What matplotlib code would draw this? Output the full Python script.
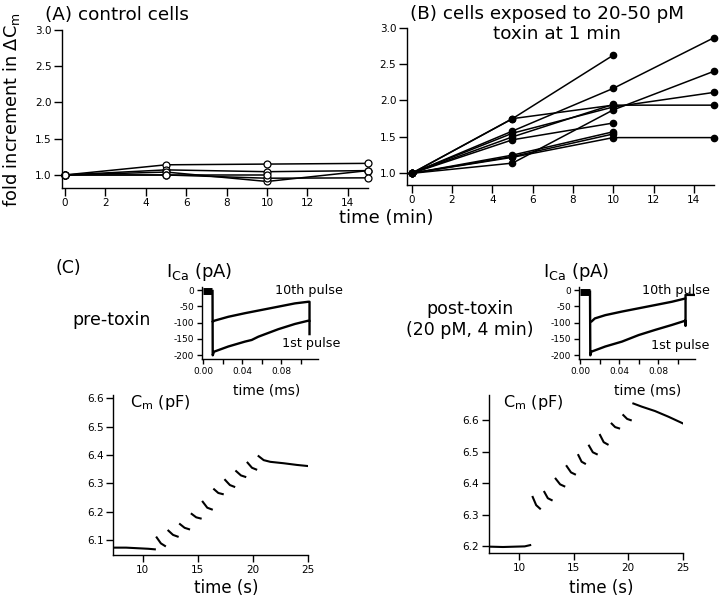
import matplotlib
matplotlib.use("Agg")
import matplotlib.pyplot as plt
import numpy as np

plt.rcParams['font.family'] = ['DejaVu Sans']
plt.rcParams['axes.unicode_minus'] = False
plt.rcParams['mathtext.default'] = 'regular'

nan = np.nan

# (A) / (B): fold increment vs time (min)
t_min = [0, 5, 10, 15]
ctrl_cells = [
    [1.0, 1.14, 1.15, 1.16],
    [1.0, 1.07, 1.045, 1.06],
    [1.0, 1.04, 0.91, 1.06],
    [1.0, 1.0, 0.955, 0.96],
    [1.0, 1.0, 1.0, nan],
]
tox_cells = [
    [1.0, 1.75, 2.62, nan],
    [1.0, 1.75, 1.935, 1.935],
    [1.0, 1.58, 2.165, 2.86],
    [1.0, 1.55, 1.91, 2.11],
    [1.0, 1.50, 1.945, nan],
    [1.0, 1.46, 1.69, nan],
    [1.0, 1.25, 1.57, nan],
    [1.0, 1.23, 1.54, nan],
    [1.0, 1.22, 1.49, 1.49],
    [1.0, 1.14, 1.87, 2.40],
]
min_ticks = [0, 2, 4, 6, 8, 10, 12, 14]
fold_ticks = [1.0, 1.5, 2.0, 2.5, 3.0]

# (C) calcium currents, time in ms, current in pA
pre_noise_t = [0.0, 0.009]
pre_noise_i = [-4, -4]
pre_1st_t = [0.0095, 0.0097, 0.011, 0.0257, 0.0428, 0.0497, 0.0565, 0.077, 0.094, 0.1077, 0.109, 0.109]
pre_1st_i = [-3, -200, -189, -173, -158, -153, -143, -120, -104, -94, -94, -135]
pre_10th_t = [0.0097, 0.0114, 0.0257, 0.0428, 0.0599, 0.077, 0.094, 0.1077, 0.109, 0.109]
pre_10th_i = [-97, -94, -82, -71, -61, -51, -41, -36, -36, -94]

post_noise_t = [0.0, 0.0098]
post_noise_i = [-5, -5]
post_1st_t = [0.0100, 0.0103, 0.0113, 0.0257, 0.0428, 0.0599, 0.077, 0.094, 0.1077, 0.108, 0.108, 0.117]
post_1st_i = [-5, -200, -189, -173, -158, -138, -122, -107, -94, -110, -15, -15]
post_10th_t = [0.0103, 0.0113, 0.015, 0.0257, 0.0428, 0.0599, 0.077, 0.094, 0.1077]
post_10th_i = [-97, -97, -87, -77, -66, -56, -46, -36, -26]

ms_ticks = [0.0, 0.02, 0.04, 0.06, 0.08, 0.10]
ms_labels = ['0.00', '', '0.04', '', '0.08', '']
pa_ticks = [0, -50, -100, -150, -200]

# (C) membrane capacitance, time in s, Cm in pF
cm_pre_base_t = [7.5, 8.5, 9.5, 10.5, 11.1]
cm_pre_base_c = [6.073, 6.073, 6.071, 6.069, 6.067]
cm_pre_segs = [
    ([11.27, 11.65, 12.02], [6.109, 6.088, 6.079]),
    ([12.33, 12.75, 13.17], [6.133, 6.118, 6.112]),
    ([13.38, 13.80, 14.20], [6.156, 6.143, 6.138]),
    ([14.44, 14.85, 15.25], [6.192, 6.180, 6.176]),
    ([15.44, 15.85, 16.26], [6.235, 6.214, 6.208]),
    ([16.47, 16.85, 17.25], [6.279, 6.266, 6.262]),
    ([17.47, 17.90, 18.29], [6.312, 6.294, 6.288]),
    ([18.47, 18.90, 19.29], [6.343, 6.328, 6.323]),
    ([19.50, 19.90, 20.28], [6.373, 6.355, 6.349]),
]
cm_pre_end_t = [20.5, 20.96, 21.56, 22.77, 23.98, 25.0]
cm_pre_end_c = [6.396, 6.382, 6.376, 6.371, 6.365, 6.361]

cm_post_base_t = [7.4, 8.5, 9.5, 10.5, 11.0]
cm_post_base_c = [6.198, 6.197, 6.198, 6.199, 6.203]
cm_post_segs = [
    ([11.23, 11.55, 11.90], [6.356, 6.330, 6.319]),
    ([12.30, 12.62, 12.97], [6.372, 6.352, 6.346]),
    ([13.34, 13.75, 14.13], [6.414, 6.396, 6.390]),
    ([14.35, 14.75, 15.11], [6.454, 6.434, 6.428]),
    ([15.42, 15.72, 16.03], [6.489, 6.468, 6.462]),
    ([16.40, 16.75, 17.11], [6.519, 6.498, 6.492]),
    ([17.41, 17.75, 18.11], [6.553, 6.530, 6.523]),
    ([18.48, 18.80, 19.16], [6.589, 6.578, 6.574]),
    ([19.55, 19.90, 20.23], [6.616, 6.604, 6.600]),
]
cm_post_end_t = [20.47, 21.24, 22.46, 23.69, 25.0]
cm_post_end_c = [6.653, 6.643, 6.629, 6.611, 6.590]

W, H = 720, 600
fig = plt.figure(figsize=(7.2, 6), dpi=100)


def box(x0, y0, x1, y1):
    # pixel box (top-left origin) -> figure fraction
    return [x0 / W, 1 - y1 / H, (x1 - x0) / W, (y1 - y0) / H]


def ftext(x, y, s, **kw):
    fig.text(x / W, 1 - y / H, s, **kw)


def style(ax, size=7.5, length=5.5):
    for s in ['top', 'right']:
        ax.spines[s].set_visible(False)
    for s in ['left', 'bottom']:
        ax.spines[s].set_linewidth(1.0)
    ax.tick_params(direction='out', length=length, width=1.0, labelsize=size, pad=2)


# ---- (A) control
axA = fig.add_axes(box(62, 30, 368, 188))
for c in ctrl_cells:
    axA.plot(t_min, c, color='black', lw=1.1, marker='o', ms=5, mfc='white',
             mec='black', mew=0.9, clip_on=False)
axA.set_xlim(-0.15, 15)
axA.set_ylim(0.82, 3.0)
axA.set_xticks(min_ticks)
axA.set_yticks(fold_ticks)
axA.set_yticklabels(['%.1f' % v for v in fold_ticks])
style(axA)

# ---- (B) toxin
axB = fig.add_axes(box(406.7, 27.5, 714, 185))
for c in tox_cells:
    axB.plot(t_min, c, color='black', lw=1.1, marker='o', ms=4.5, mfc='black',
             mec='black', clip_on=False)
axB.set_xlim(-0.25, 15)
axB.set_ylim(0.84, 3.0)
axB.set_xticks(min_ticks)
axB.set_yticks(fold_ticks)
axB.set_yticklabels(['%.1f' % v for v in fold_ticks])
style(axB)

ftext(45, 15, '(A) control cells', fontsize=13.2, ha='left', va='center')
ftext(410, 14, '(B) cells exposed to 20-50 pM', fontsize=13.2, ha='left', va='center')
ftext(557, 34, 'toxin at 1 min', fontsize=13.2, ha='center', va='center')
ftext(12, 110, 'fold increment in ΔC$_m$', fontsize=12.8, rotation=90,
      ha='center', va='center')
ftext(386, 218, 'time (min)', fontsize=13, ha='center', va='center')

# ---- (C) current insets
for box_px, nt, ni, t1, i1, t10, i10 in [
        ((201.7, 287, 318, 359), pre_noise_t, pre_noise_i, pre_1st_t, pre_1st_i, pre_10th_t, pre_10th_i),
        ((578.7, 287, 695, 359), post_noise_t, post_noise_i, post_1st_t, post_1st_i, post_10th_t, post_10th_i)]:
    ax = fig.add_axes(box(*box_px))
    ax.plot(nt, ni, color='black', lw=5, solid_capstyle='butt')
    ax.plot(t1, i1, color='black', lw=1.7)
    ax.plot(t10, i10, color='black', lw=1.7)
    ax.set_xlim(-0.0016, 0.1177)
    ax.set_ylim(-211.3, 9.2)
    ax.set_xticks(ms_ticks)
    ax.set_xticklabels(ms_labels)
    ax.set_yticks(pa_ticks)
    ax.set_yticklabels([str(v) for v in pa_ticks])
    style(ax, size=6.5, length=3.5)

ftext(55, 268, '(C)', fontsize=12.5, ha='left', va='center')
ftext(166, 272, 'I$_{Ca}$ (pA)', fontsize=13, ha='left', va='center')
ftext(543, 272, 'I$_{Ca}$ (pA)', fontsize=13, ha='left', va='center')
ftext(112, 320, 'pre-toxin', fontsize=12.5, ha='center', va='center')
ftext(470, 309, 'post-toxin', fontsize=12.5, ha='center', va='center')
ftext(470, 330, '(20 pM, 4 min)', fontsize=12.5, ha='center', va='center')
ftext(343, 290, '10th pulse', fontsize=9.2, ha='right', va='center')
ftext(710, 290, '10th pulse', fontsize=9.2, ha='right', va='center')
ftext(340, 344, '1st pulse', fontsize=9.2, ha='right', va='center')
ftext(709, 345, '1st pulse', fontsize=9.2, ha='right', va='center')
ftext(267, 390, 'time (ms)', fontsize=10, ha='center', va='center')
ftext(648, 390, 'time (ms)', fontsize=10, ha='center', va='center')

# ---- (C) capacitance
for box_px, bt, bc, segs, et, ec, xl, yl, yt in [
        ((113.3, 395, 308.3, 555), cm_pre_base_t, cm_pre_base_c, cm_pre_segs,
         cm_pre_end_t, cm_pre_end_c, (7.34, 25), (6.047, 6.612), [6.1, 6.2, 6.3, 6.4, 6.5, 6.6]),
        ((489, 395, 682.7, 553.3), cm_post_base_t, cm_post_base_c, cm_post_segs,
         cm_post_end_t, cm_post_end_c, (7.22, 25), (6.177, 6.68), [6.2, 6.3, 6.4, 6.5, 6.6])]:
    ax = fig.add_axes(box(*box_px))
    ax.plot(bt, bc, color='black', lw=1.5)
    for st, sc in segs:
        ax.plot(st, sc, color='black', lw=1.5)
    ax.plot(et, ec, color='black', lw=1.5)
    ax.set_xlim(*xl)
    ax.set_ylim(*yl)
    ax.set_xticks([10, 15, 20, 25])
    ax.set_yticks(yt)
    ax.set_yticklabels(['%.1f' % v for v in yt])
    style(ax, size=7.5, length=5)

ftext(130, 402, 'C$_m$ (pF)', fontsize=11.5, ha='left', va='center')
ftext(503, 403, 'C$_m$ (pF)', fontsize=11.5, ha='left', va='center')
ftext(226, 588, 'time (s)', fontsize=12, ha='center', va='center')
ftext(601, 588, 'time (s)', fontsize=12, ha='center', va='center')

fig.savefig('out.png', dpi=100)
